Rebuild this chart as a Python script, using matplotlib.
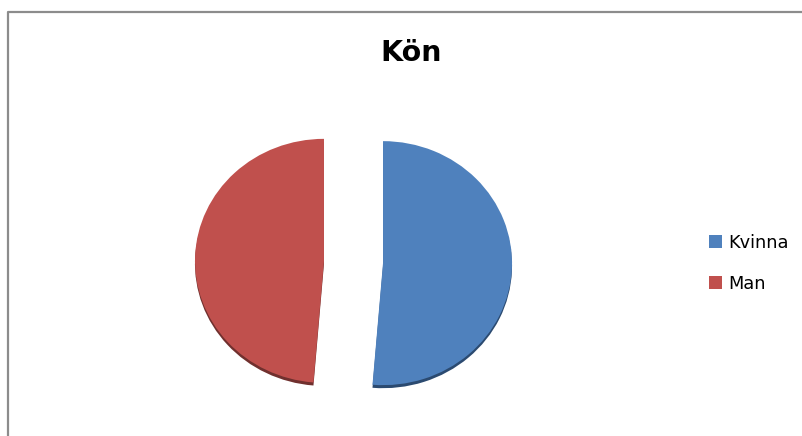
import matplotlib
matplotlib.use("Agg")
import matplotlib.pyplot as plt
from matplotlib.patches import Patch
from matplotlib.lines import Line2D

# data
labels = ["Kvinna", "Man"]
shares = [51.3, 48.7]
colors = ["#4f81bd", "#c0504d"]
rim_colors = ["#2b4a70", "#70302e"]

W, H = 802, 436
fig = plt.figure(figsize=(W / 100, H / 100), dpi=100)

# chart frame (only top and left edges are visible in the crop)
fig.add_artist(Line2D([8 / W, 8 / W, 1.0], [0.0, 1 - 12 / H, 1 - 12 / H],
                      transform=fig.transFigure, color="#8c8c8c", lw=1.6))

ax = fig.add_axes([95.5 / W, 27.6 / H, 516 / W, 292.8 / H])
explode = [0.229, 0.229]

# darker copy slightly below to fake the 3D rim
ax.pie(shares, colors=rim_colors, startangle=90, counterclock=False,
       explode=explode, center=(0, -0.025), normalize=True)
ax.pie(shares, colors=colors, startangle=90, counterclock=False,
       explode=explode, normalize=True,
       wedgeprops=dict(linewidth=0))
ax.set_aspect("auto")
ax.set_xlim(-2, 2)
ax.set_ylim(-1.2, 1.2)
ax.axis("off")

fig.text(411 / W, 1 - 53 / H, "Kön", ha="center", va="center",
         fontsize=20.5, fontweight="bold")

handles = [Patch(facecolor=c, edgecolor="none") for c in colors]
fig.legend(handles, labels, loc="center left",
           bbox_to_anchor=(709 / W, 1 - 263.5 / H), frameon=False,
           fontsize=12.8, handlelength=0.75, handleheight=0.75,
           handletextpad=0.35, labelspacing=1.3, borderpad=0, borderaxespad=0)

fig.savefig("out.png", dpi=100)
